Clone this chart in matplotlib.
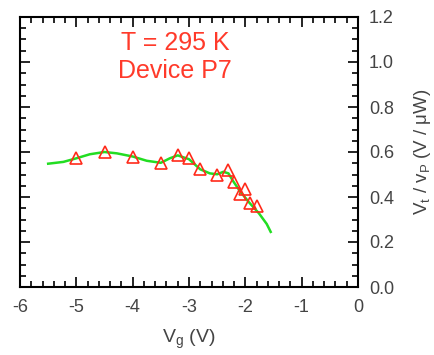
import numpy as np
import matplotlib.pyplot as plt
from matplotlib.ticker import MultipleLocator

# measured points (triangles)
vg_pts = [-5.0, -4.5, -4.0, -3.5, -3.2, -3.0, -2.8, -2.5, -2.3, -2.2, -2.0, -2.1, -1.92, -1.8]
sig_pts = [0.575, 0.600, 0.578, 0.552, 0.585, 0.572, 0.525, 0.498, 0.522, 0.468, 0.437, 0.415, 0.372, 0.362]

# smooth fit curve (green)
vg_fit = [-5.5, -5.23, -5.0, -4.76, -4.5, -4.28, -4.0, -3.75, -3.5, -3.34, -3.2, -3.0,
          -2.8, -2.63, -2.5, -2.39, -2.3, -2.21, -2.09, -1.93, -1.76, -1.62, -1.55]
sig_fit = [0.548, 0.556, 0.572, 0.590, 0.600, 0.594, 0.580, 0.561, 0.552, 0.572, 0.585, 0.568,
           0.523, 0.505, 0.501, 0.512, 0.505, 0.468, 0.424, 0.375, 0.328, 0.280, 0.245]

plt.rcParams['font.family'] = ['Liberation Sans', 'DejaVu Sans']

fig = plt.figure(figsize=(4.35, 3.55), dpi=100)
ax = fig.add_axes([20/435, 1 - 287/355, 338/435, 270/355])

ax.plot(vg_fit, sig_fit, color='#22dd22', lw=1.8, zorder=2)
ax.plot(vg_pts, sig_pts, ls='none', marker='^', ms=8, mfc='none', mec='#ff2a1a', mew=1.2, zorder=3)

ax.set_xlim(-6, 0)
ax.set_ylim(0, 1.2)
ax.xaxis.set_major_locator(MultipleLocator(1))
ax.xaxis.set_minor_locator(MultipleLocator(0.2))
ax.yaxis.set_major_locator(MultipleLocator(0.2))
ax.yaxis.set_minor_locator(MultipleLocator(0.05))
ax.tick_params(which='both', direction='in', top=True, right=True, left=True, bottom=True,
               labelleft=False, labelright=True, width=1.2, colors='black',
               labelcolor='#444444', labelsize=13)
ax.tick_params(which='major', length=7)
ax.tick_params(which='minor', length=4)
ax.tick_params(axis='x', which='major', pad=9)
ax.tick_params(axis='y', which='major', pad=8)
ax.yaxis.set_major_formatter(plt.FuncFormatter(lambda v, p: f'{v:.1f}'))
ax.xaxis.set_major_formatter(plt.FuncFormatter(lambda v, p: f'{v:.0f}'))
for s in ax.spines.values():
    s.set_linewidth(1.5)

ax.text(-3.25, 1.085, 'T = 295 K', color='#ff3a2a', fontsize=18, ha='center', va='center')
ax.text(-3.25, 0.96, 'Device P7', color='#ff3a2a', fontsize=18, ha='center', va='center')

ax.set_xlabel('V$_\\mathregular{g}$ (V)', fontsize=14, color='#444444', labelpad=8)
fig.text(423/435, 1 - 152/355, 'V$_\\mathregular{t}$ / v$_\\mathregular{P}$ (V / \u03bcW)',
         rotation=90, ha='center', va='center', fontsize=13.5, color='#444444')

fig.savefig('out.png', dpi=100)
